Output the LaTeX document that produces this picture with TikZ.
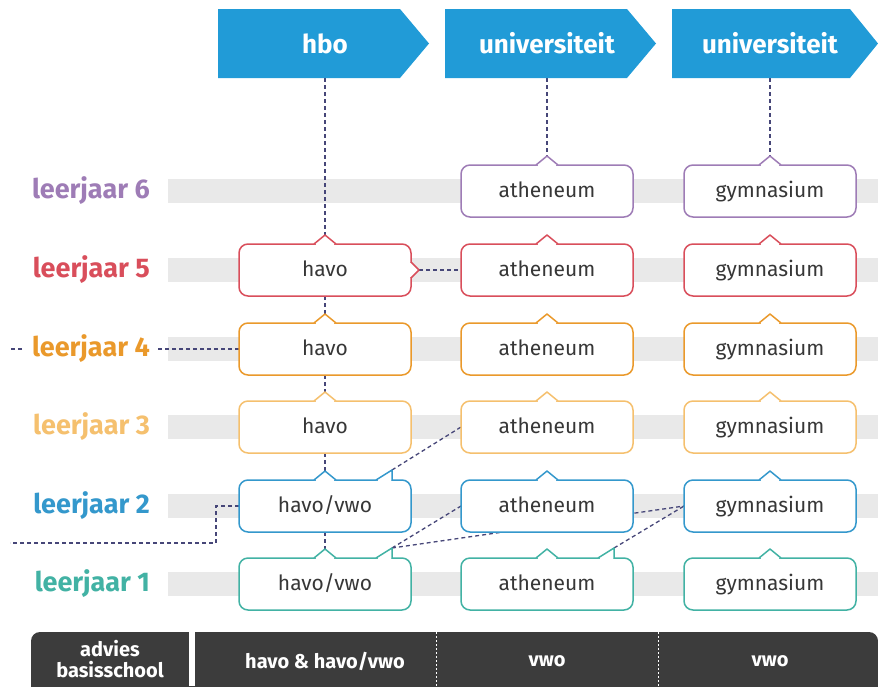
\documentclass[tikz,border=0pt]{standalone}
\usepackage{fontspec}
\setmainfont{Fira Sans}
\usetikzlibrary{calc}
\usetikzlibrary{backgrounds}
\definecolor{paars}{RGB}{158,124,182}
\definecolor{rood}{RGB}{217,78,91}
\definecolor{oranje}{RGB}{234,153,43}
\definecolor{geel}{RGB}{245,192,110}
\definecolor{blauw}{RGB}{52,152,204}
\definecolor{groen}{RGB}{66,178,164}
\definecolor{kopblauw}{RGB}{33,155,215}
\definecolor{grijs}{RGB}{233,233,233}
\definecolor{stip}{RGB}{70,70,120}
\definecolor{donker}{RGB}{60,60,60}
\definecolor{tekst}{RGB}{55,55,55}

\begin{document}
\begin{tikzpicture}[x=1pt,y=-1pt,
  box/.style={draw,line width=1.5pt,rounded corners=9pt,fill=white,minimum width=172pt,minimum height=52pt,inner sep=0pt,outer sep=0pt,text height=16pt,text depth=3pt,text=tekst,font=\fontsize{21}{24}\selectfont},
  jaar/.style={anchor=east,fill=white,inner xsep=8pt,font=\fontsize{27}{32}\selectfont\bfseries},
  kop/.style={text=white,minimum height=69pt,inner sep=0pt,outer sep=0pt,font=\fontsize{26}{30}\selectfont\bfseries},
  balk/.style={text=white,align=center,font=\fontsize{20}{21}\selectfont\bfseries},
  link/.style={draw=stip,line width=1.3pt,dash pattern=on 4pt off 3pt},
  notch/.style={line width=1.5pt,line join=round,fill=white}]
  % Boundary
  \path[use as bounding box] (0,0) rectangle (878,686);
  % Headings
  \fill[kopblauw] (218,9) -- (400,9) -- (429,43.5) -- (400,78) -- (218,78) -- cycle;
  \fill[kopblauw] (445,9) -- (627,9) -- (656,43.5) -- (627,78) -- (445,78) -- cycle;
  \fill[kopblauw] (672,9) -- (850,9) -- (878,43.5) -- (850,78) -- (672,78) -- cycle;
  \node[kop] (hbo) at (325,43.5) {hbo};
  \node[kop] (wo1) at (547,43.5) {universiteit};
  \node[kop] (wo2) at (770,43.5) {universiteit};
  % Years and boxes
  \foreach \r/\y/\c in {1/584/groen,2/506/blauw,3/427/geel,4/349/oranje,5/270/rood,6/191/paars} {
    \node[jaar,text=\c] (j\r) at (158,\y) {leerjaar \r};
    \node[box,draw=\c] (a\r) at (547,\y) {atheneum};
    \node[box,draw=\c] (g\r) at (770,\y) {gymnasium};
  }
  \foreach \r/\y/\c/\t in {1/584/groen/{havo/vwo},2/506/blauw/{havo/vwo},3/427/geel/havo,4/349/oranje/havo,5/270/rood/havo}
    \node[box,draw=\c] (h\r) at (325,\y) {\t};
  % Notches
  \foreach \n/\c in {h1/groen,h2/blauw,h3/geel,h4/oranje,h5/rood,
                     a1/groen,a2/blauw,a3/geel,a4/oranje,a5/rood,a6/paars,
                     g1/groen,g2/blauw,g3/geel,g4/oranje,g5/rood,g6/paars} {
    \fill[white] ($(\n.north)+(-9,-1)$) rectangle ($(\n.north)+(9,1)$);
    \draw[notch,draw=\c] ($(\n.north)+(-11,0)$) -- ($(\n.north)+(0,-9)$) coordinate (\n-top) -- ($(\n.north)+(11,0)$);
  }
  \foreach \n/\c in {h2/blauw,h1/groen,a1/groen} {
    \fill[white] ($(\n.north east)+(-33,-1)$) rectangle ($(\n.north east)+(-20,1)$);
    \draw[notch,draw=\c] ($(\n.north east)+(-35,0)$) -- ($(\n.north east)+(-19,-10)$) coordinate (\n-hoek) -- ($(\n.north east)+(-19,0.75)$);
  }
  \fill[white] ($(h5.east)+(-1,-7)$) rectangle ($(h5.east)+(1,7)$);
  \draw[notch,draw=rood] ($(h5.east)+(0,-8)$) -- ($(h5.east)+(8,0)$) coordinate (h5-rechts) -- ($(h5.east)+(0,8)$);
  % Loose ends
  \coordinate (l4) at (10,349);
  \coordinate (l2) at (10,543);
  \begin{scope}[on background layer]
    % Bars
    \foreach \y in {191,270,349,427,506,584}
      \fill[grijs] (168,\y-12) rectangle (878,\y+12);
    % Links
    \draw[link] (hbo.south) -- (h5-top);
    \draw[link] (wo1.south) -- (a6-top);
    \draw[link] (wo2.south) -- (g6-top);
    \foreach \r [evaluate=\r as \s using int(\r-1)] in {2,...,5}
      \draw[link] (h\r.south) -- (h\s-top);
    \foreach \k in {a,g}
      \foreach \r [evaluate=\r as \s using int(\r-1)] in {2,...,6}
        \draw[link] (\k\r.south) -- (\k\s-top);
    \draw[link] (h5-rechts) -- (a5.west);
    \draw[link] (h4.west) -- (l4);
    \draw[link] (h2.west) -- ++(-23,0) |- (l2);
    \draw[link] (h2-hoek) -- (a3.west);
    \draw[link] (h1-hoek) -- (a2.west);
    \draw[link] (h1-hoek) -- (g2.west);
    \draw[link] (a1-hoek) -- (g2.west);
  \end{scope}
  % Advice bar
  \begin{scope}
    \clip (0,0) rectangle (878,686);
    \fill[donker,rounded corners=9pt] (31,632) rectangle (878,700);
  \end{scope}
  \fill[white] (189,632) rectangle (195,686);
  \draw[white,line width=0.8pt,dash pattern=on 2pt off 2pt] (436,632) -- (436,686);
  \draw[white,line width=0.8pt,dash pattern=on 2pt off 2pt] (658,632) -- (658,686);
  \node[balk] (advies) at (110,659) {advies\\basisschool};
  \node[balk] (havovwo) at (325,661) {havo \& havo/vwo};
  \node[balk] (vwo1) at (547,661) {vwo};
  \node[balk] (vwo2) at (770,661) {vwo};
\end{tikzpicture}
\end{document}
